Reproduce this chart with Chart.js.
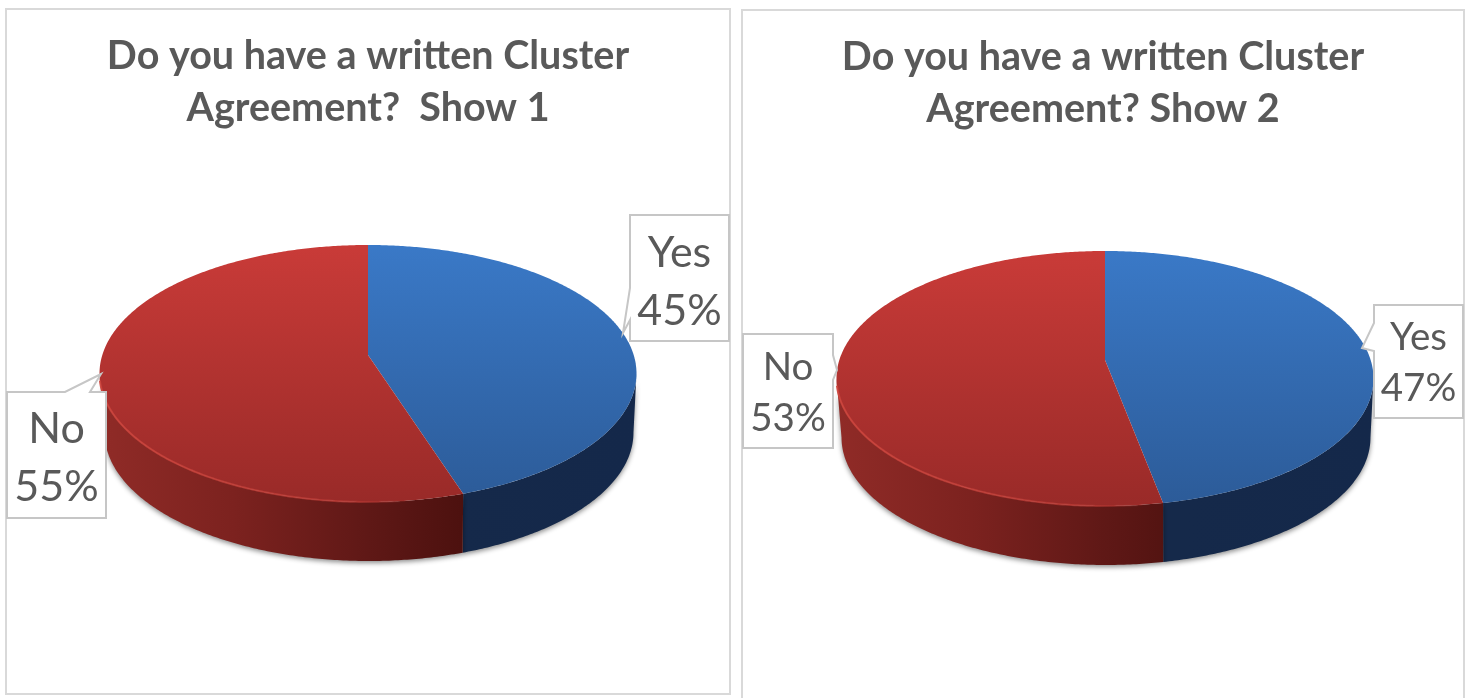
<!DOCTYPE html>
<html>
<head>
<meta charset="utf-8">
<title>Cluster Agreement</title>
<script src="https://cdn.jsdelivr.net/npm/chart.js@4"></script>
<style>
  html, body { margin: 0; background: #fff; overflow: hidden; }
  .panel { position: absolute; border: 2px solid #d9d9d9; box-sizing: border-box; }
  canvas { position: absolute; display: block; }
</style>
</head>
<body>
<div class="panel" style="left:5px;top:8px;width:726px;height:687px"></div>
<div class="panel" style="left:741px;top:9px;width:724px;height:700px"></div>
<canvas id="show1" width="726" height="687" style="left:5px;top:8px"></canvas>
<canvas id="show2" width="724" height="689" style="left:741px;top:9px"></canvas>
<script>
const categories = ['Yes', 'No'];
const show1Values = [45, 55];
const show2Values = [47, 53];
const show1Title = ['Do you have a written Cluster', 'Agreement?  Show 1'];
const show2Title = ['Do you have a written Cluster', 'Agreement? Show 2'];

const topColors = [['#3a79c7', '#2c5b98'], ['#c93b38', '#992a28']];
const textColor = '#595959';

// how the flat pie is tilted on the page, in canvas pixels
const show1View = { apexX: 363, apexY: 347, up: 110, down: 147, halfWidth: 268.5, depth: 59 };
const show2View = { apexX: 364, apexY: 351, up: 109, down: 146, halfWidth: 268.5, depth: 59 };

// callouts: box, pointer base and tip
const show1Callouts = [
  { box: [625, 207, 99, 126], side: 'left', base: [280, 312], tip: [618, 325], size: 43, gap: 58, textY: 245 },
  { box: [2, 384, 99, 126], side: 'top', base: [60, 85], tip: [96, 366], size: 43, gap: 58, textY: 421 }
];
const show2Callouts = [
  { box: [633, 296, 89, 113], side: 'left', base: [314, 342], tip: [621, 339], size: 38.5, gap: 51, textY: 329 },
  { box: [2, 325, 90, 114], side: 'right', base: [346, 371], tip: [96, 361], size: 38.5, gap: 51, textY: 359 }
];

function projector(view) {
  const k = (view.down - view.up) / (view.down + view.up);
  const b = view.up * (1 + k);
  const a = view.halfWidth * Math.sqrt(1 - k * k);
  return {
    k: k,
    at: function (angle) {
      const u = Math.cos(angle), v = Math.sin(angle);
      const w = 1 - k * v;
      return { x: view.apexX + a * u / w, y: view.apexY + b * v / w };
    },
    low: function (angle) {
      const p = this.at(angle);
      return { x: view.apexX + 1 + (p.x - view.apexX) * 0.985, y: p.y + view.depth };
    }
  };
}

function rimPoints(fn, from, to) {
  const pts = [];
  const steps = Math.max(2, Math.ceil(Math.abs(to - from) / 0.01));
  for (let i = 0; i <= steps; i++) pts.push(fn(from + (to - from) * i / steps));
  return pts;
}

function trace(ctx, pts, start) {
  pts.forEach((p, i) => {
    if (i === 0 && start) ctx.moveTo(p.x, p.y);
    else ctx.lineTo(p.x, p.y);
  });
}

const tiltedPie = {
  id: 'tiltedPie',
  // the arcs from the library are redrawn through the tilt
  beforeDatasetsDraw(chart, args, opts) {
    const ctx = chart.ctx;
    const view = opts.view;
    const proj = projector(view);
    const arcs = chart.getDatasetMeta(0).data;
    const t0 = Math.asin(proj.k);
    const t1 = Math.PI - t0;
    const top = view.apexY - view.up;
    const bottom = view.apexY + view.down;
    const left = view.apexX - view.halfWidth;
    const right = view.apexX + view.halfWidth;

    // side wall
    ctx.save();
    arcs.forEach((arc, i) => {
      const from = Math.max(arc.startAngle, t0);
      const to = Math.min(arc.endAngle, t1);
      if (to <= from) return;
      const grad = ctx.createLinearGradient(left, 0, right, 0);
      if (i === 1) {
        grad.addColorStop(0, '#902b27');
        grad.addColorStop(0.25, '#7c221f');
        grad.addColorStop(0.5, '#5f1816');
        grad.addColorStop(0.7, '#4a100e');
      } else {
        grad.addColorStop(0.65, '#15294a');
        grad.addColorStop(1, '#14284a');
      }
      ctx.beginPath();
      trace(ctx, rimPoints(a => proj.at(a), from, to), true);
      trace(ctx, rimPoints(a => proj.low(a), to, from), false);
      ctx.closePath();
      ctx.shadowColor = 'rgba(0,0,0,0.45)';
      ctx.shadowBlur = 5;
      ctx.shadowOffsetY = 2;
      ctx.fillStyle = grad;
      ctx.fill();
    });
    ctx.restore();

    // top face
    arcs.forEach((arc, i) => {
      const grad = ctx.createLinearGradient(0, top, 0, bottom);
      grad.addColorStop(0, topColors[i][0]);
      grad.addColorStop(1, topColors[i][1]);
      ctx.beginPath();
      ctx.moveTo(view.apexX, view.apexY);
      trace(ctx, rimPoints(a => proj.at(a), arc.startAngle, arc.endAngle), false);
      ctx.closePath();
      ctx.fillStyle = grad;
      ctx.fill();
    });

    // light edge along the front of the red slice, fading to the right
    const red = arcs[1];
    const edge = ctx.createLinearGradient(left, 0, view.apexX + 60, 0);
    edge.addColorStop(0, 'rgba(205,68,60,0.9)');
    edge.addColorStop(0.75, 'rgba(190,60,54,0.7)');
    edge.addColorStop(1, 'rgba(170,50,46,0)');
    ctx.beginPath();
    trace(ctx, rimPoints(a => proj.at(a), Math.max(red.startAngle, 1.45), Math.PI - 0.2), true);
    ctx.strokeStyle = edge;
    ctx.lineWidth = 2;
    ctx.stroke();
    return false;
  },
  afterDraw(chart, args, opts) {
    const ctx = chart.ctx;
    const values = chart.data.datasets[0].data;
    opts.callouts.forEach((c, i) => {
      const [x, y, w, h] = c.box;
      ctx.beginPath();
      ctx.moveTo(x, y);
      if (c.side === 'top') {
        ctx.lineTo(c.base[0], y);
        ctx.lineTo(c.tip[0], c.tip[1]);
        ctx.lineTo(c.base[1], y);
      }
      ctx.lineTo(x + w, y);
      if (c.side === 'right') {
        ctx.lineTo(x + w, c.base[0]);
        ctx.lineTo(c.tip[0], c.tip[1]);
        ctx.lineTo(x + w, c.base[1]);
      }
      ctx.lineTo(x + w, y + h);
      ctx.lineTo(x, y + h);
      if (c.side === 'left') {
        ctx.lineTo(x, c.base[1]);
        ctx.lineTo(c.tip[0], c.tip[1]);
        ctx.lineTo(x, c.base[0]);
      }
      ctx.closePath();
      ctx.fillStyle = '#fff';
      ctx.fill();
      ctx.strokeStyle = '#c6c6c6';
      ctx.lineWidth = 2;
      ctx.stroke();

      ctx.fillStyle = textColor;
      ctx.font = c.size + 'px Lato';
      ctx.textAlign = 'center';
      ctx.textBaseline = 'middle';
      ctx.fillText(chart.data.labels[i], x + w / 2, c.textY);
      ctx.fillText(values[i] + '%', x + w / 2, c.textY + c.gap);
    });
  }
};

function drawPie(id, values, title, view, callouts) {
  new Chart(document.getElementById(id), {
    type: 'pie',
    data: {
      labels: categories,
      datasets: [{ data: values, backgroundColor: ['#3a79c7', '#c93b38'], borderWidth: 0 }]
    },
    plugins: [tiltedPie],
    options: {
      responsive: false,
      animation: false,
      plugins: {
        legend: { display: false },
        tooltip: { enabled: false },
        title: {
          display: true,
          text: title,
          color: textColor,
          font: { family: 'Lato', size: 39.5, weight: 'bold', lineHeight: 1.32 },
          padding: { top: 22, bottom: 0 }
        },
        tiltedPie: { view: view, callouts: callouts }
      }
    }
  });
}

drawPie('show1', show1Values, show1Title, show1View, show1Callouts);
drawPie('show2', show2Values, show2Title, show2View, show2Callouts);
</script>
</body>
</html>
